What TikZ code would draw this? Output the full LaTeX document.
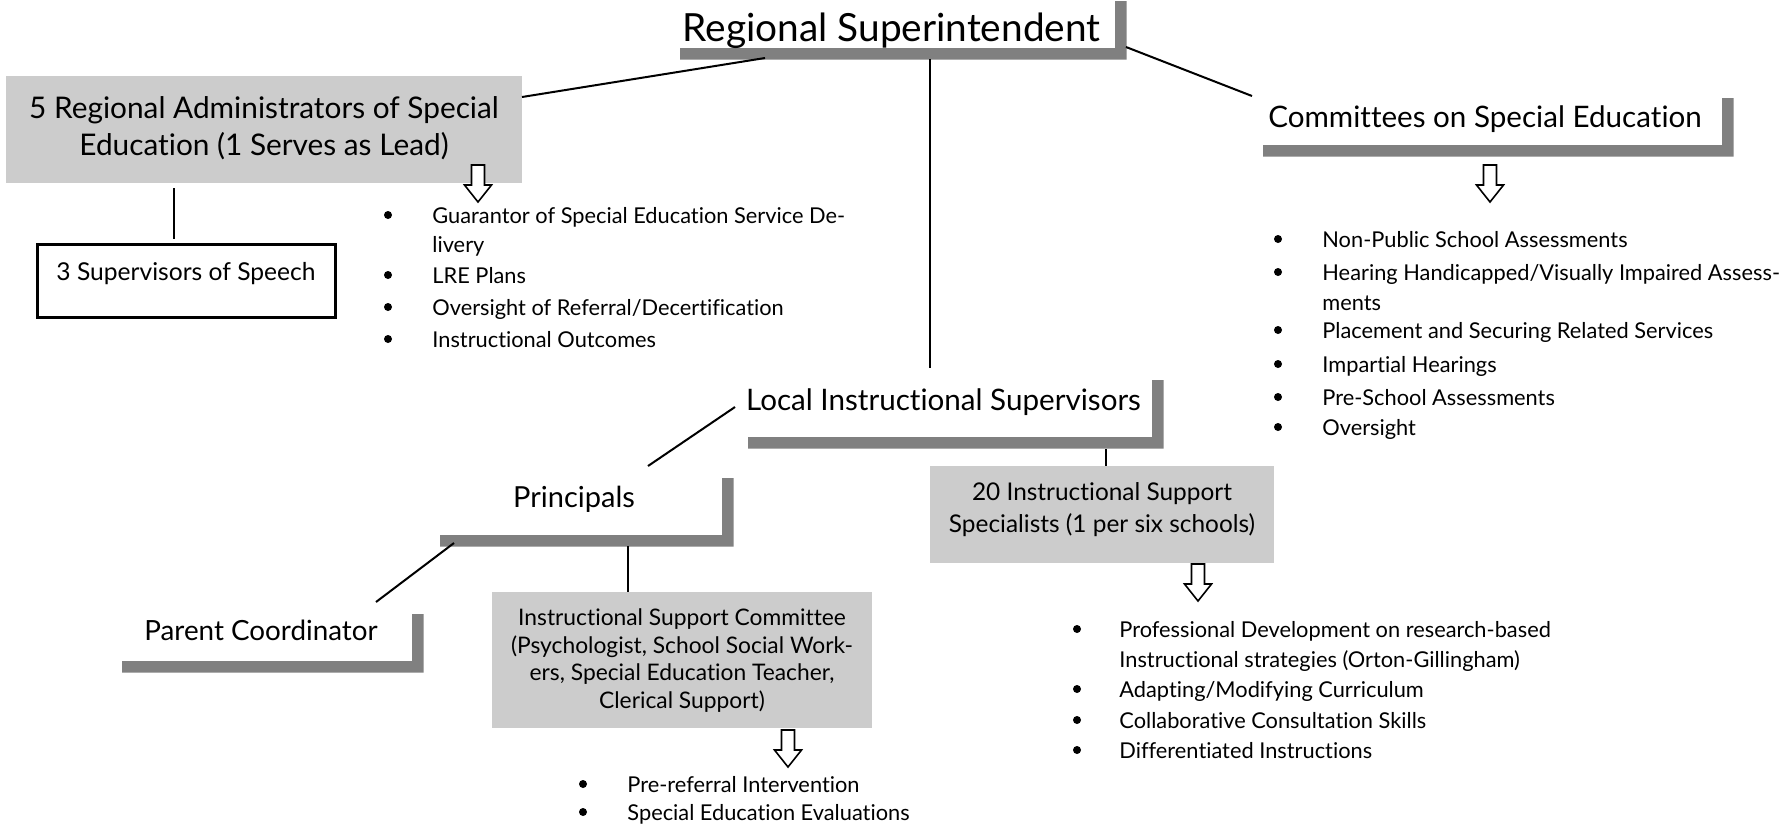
\documentclass[tikz,border=0pt]{standalone}
\usepackage{fontspec}
\setmainfont{Lato}[Ligatures=NoCommon]
\usetikzlibrary{calc,fit}
\definecolor{boxgray}{HTML}{CCCCCC}
\definecolor{shadgray}{HTML}{808080}
\tikzset{
  conn/.style={line width=1pt, black},
  vconn/.style={line width=1.3pt, black},
  frame/.style={rectangle, inner sep=0pt, outer sep=0pt},
  grayframe/.style={frame, fill=boxgray},
  lbl/.style={inner sep=0pt, anchor=base},
  itemtxt/.style={inner sep=0pt, anchor=base west, font=\fontsize{10.9}{13}\selectfont},
  dot/.style={circle, fill=black, inner sep=0pt, minimum size=4pt},
  holarrow/.style={draw=black, line width=0.8pt, fill=white, line join=miter},
  pics/hdown/.style={code={\draw[holarrow] (-6.5,0) -- (6.5,0) -- (6.5,20) -- (13.5,20) -- (0,37) -- (-13.5,20) -- (-6.5,20) -- cycle;}}
}
\newcommand\shadowL[1]{\fill[shadgray] (#1.south west) -- (#1.south east) -- (#1.north east) -- ($(#1.north east)+(11.5,0)$) -- ($(#1.south east)+(11.5,11.5)$) -- ($(#1.south west)+(0,11.5)$) -- cycle;}
\newcommand\litem[5]{\node[dot] (#1-b) at (#2,#4-8) {};\node[itemtxt] (#1) at (#3,#4) {#5};}
\newcommand\lcont[4]{\node[itemtxt] (#1) at (#2,#3) {#4};}
\begin{document}
\begin{tikzpicture}[x=0.5pt,y=-0.5pt]
\useasboundingbox (0,0) rectangle (1782,832);
% frames
\node[frame, fit={(680,1) (1115,48)}] (rs) {};
\node[frame, fit={(1263,98) (1722,145)}] (cse) {};
\node[frame, fit={(748,380) (1152,437)}] (lis) {};
\node[frame, fit={(440,478) (722,535)}] (prin) {};
\node[frame, fit={(122,614) (412,661)}] (par) {};
\shadowL{rs}\shadowL{cse}\shadowL{lis}\shadowL{prin}\shadowL{par}
\node[grayframe, fit={(6,76) (522,183)}] (adm) {};
\node[grayframe, fit={(930,466) (1274,563)}] (iss) {};
\node[grayframe, fit={(492,592) (872,728)}] (isc) {};
\node[frame, draw=black, line width=1.35pt, fit={(37.5,244.5) (335.5,317.5)}] (sup) {};
% texts
\node[lbl, font=\fontsize{19.4}{22}\selectfont] (rs-t) at (891.5,41) {Regional Superintendent};
\node[lbl, font=\fontsize{14.8}{17}\selectfont] (cse-t) at (1485,127) {Committees on Special Education};
\node[lbl, font=\fontsize{14.8}{17}\selectfont] (lis-t) at (943.5,410) {Local Instructional Supervisors};
\node[lbl, font=\fontsize{14.5}{17}\selectfont] (prin-t) at (574,507) {Principals};
\node[lbl, font=\fontsize{13.9}{16}\selectfont] (par-t) at (261,640) {Parent Coordinator};
\node[lbl, font=\fontsize{14.9}{17}\selectfont] (adm-t1) at (264,118) {5 Regional Administrators of Special};
\node[lbl, font=\fontsize{14.9}{17}\selectfont] (adm-t2) at (264,155) {Education (1 Serves as Lead)};
\node[lbl, font=\fontsize{12.3}{14}\selectfont] (sup-t) at (186,280) {3 Supervisors of Speech};
\node[lbl, font=\fontsize{12.2}{14}\selectfont] (iss-t1) at (1102,500) {20 Instructional Support};
\node[lbl, font=\fontsize{12.2}{14}\selectfont] (iss-t2) at (1102,532) {Specialists (1 per six schools)};
\node[lbl, font=\fontsize{11.4}{13}\selectfont] (isc-t1) at (682,625) {Instructional Support Committee};
\node[lbl, font=\fontsize{11.4}{13}\selectfont] (isc-t2) at (682,653) {(Psychologist, School Social Work-};
\node[lbl, font=\fontsize{11.4}{13}\selectfont] (isc-t3) at (682,680) {ers, Special Education Teacher,};
\node[lbl, font=\fontsize{11.4}{13}\selectfont] (isc-t4) at (682,708) {Clerical Support)};
% connectors
\draw[conn] ($(rs.south west)+(85,10)$) -- ($(adm.north east)+(0,21)$);
\draw[vconn] ($(rs.south west)+(250,11)$) -- ($(lis.north west)+(182,-12)$);
\draw[conn] ($(rs.south east)+(11,-1)$) -- ($(cse.north west)+(-11,-2)$);
\draw[vconn] ($(adm.south west)+(168,5)$) -- ($(sup.north west)+(136.5,-6)$);
\draw[conn] ($(lis.north west)+(-13,27)$) -- ($(prin.north west)+(208,-12)$);
\draw[vconn] ($(lis.south west)+(358,12)$) -- ($(iss.north west)+(176,0)$);
\draw[conn] ($(prin.south west)+(14,8)$) -- ($(par.north west)+(254,-12)$);
\draw[vconn] ($(prin.south west)+(188,11)$) -- ($(isc.north west)+(136,0)$);
% hollow arrows
\pic at (478,165) {hdown};
\pic at (1490,165) {hdown};
\pic at (1198,564) {hdown};
\pic at (788,730) {hdown};
% lists
\litem{a1}{388}{432}{223}{Guarantor of Special Education Service De-}
\lcont{a1c}{432}{252}{livery}
\litem{a2}{388}{432}{283}{LRE Plans}
\litem{a3}{388}{432}{315}{Oversight of Referral/Decertification}
\litem{a4}{388}{432}{347}{Instructional Outcomes}
\litem{c1}{1278}{1322}{247}{Non-Public School Assessments}
\litem{c2}{1278}{1322}{280}{Hearing Handicapped/Visually Impaired Assess-}
\lcont{c2c}{1322}{310}{ments}
\litem{c3}{1278}{1322}{338}{Placement and Securing Related Services}
\litem{c4}{1278}{1322}{372}{Impartial Hearings}
\litem{c5}{1278}{1322}{405}{Pre-School Assessments}
\litem{c6}{1278}{1322}{435}{Oversight}
\litem{s1}{1077}{1119}{637}{Professional Development on research-based}
\lcont{s1c}{1119}{667}{Instructional strategies (Orton-Gillingham)}
\litem{s2}{1077}{1119}{697}{Adapting/Modifying Curriculum}
\litem{s3}{1077}{1119}{728}{Collaborative Consultation Skills}
\litem{s4}{1077}{1119}{758}{Differentiated Instructions}
\litem{i1}{583}{627}{792}{Pre-referral Intervention}
\litem{i2}{583}{627}{820}{Special Education Evaluations}
\end{tikzpicture}
\end{document}
